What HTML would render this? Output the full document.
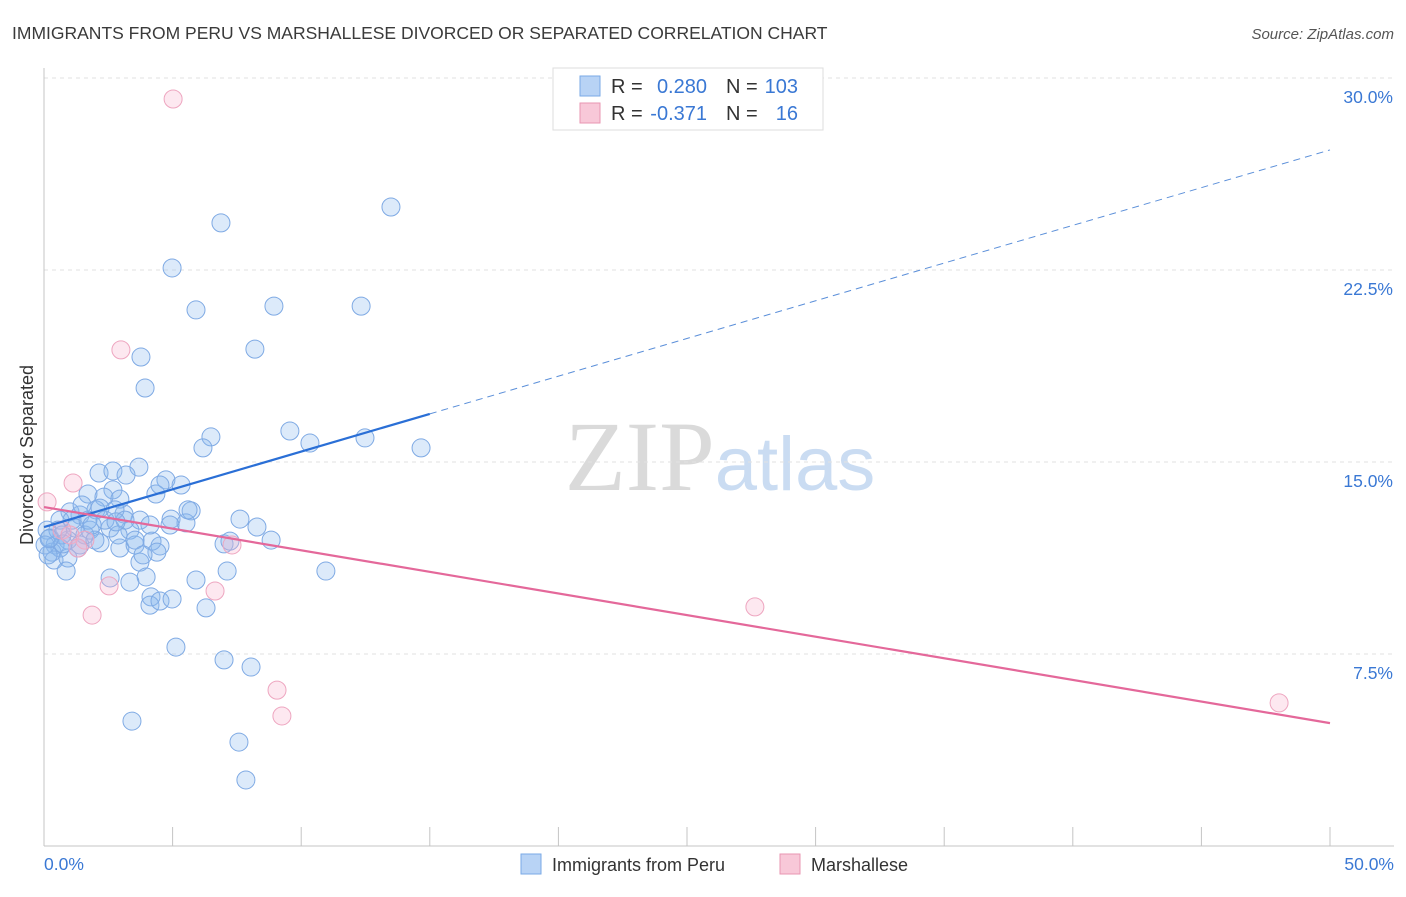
<!DOCTYPE html>
<html><head><meta charset="utf-8"><style>
body{margin:0;background:#fff;font-family:"Liberation Sans",sans-serif}
svg text{font-family:"Liberation Sans",sans-serif}
</style></head><body>
<svg id="c" width="1406" height="892" xmlns="http://www.w3.org/2000/svg">
<text x="12" y="39" font-size="17.5" fill="#3a3a3a">IMMIGRANTS FROM PERU VS MARSHALLESE DIVORCED OR SEPARATED CORRELATION CHART</text>
<text x="1394" y="39" font-size="15" fill="#555" text-anchor="end" font-style="italic">Source: ZipAtlas.com</text>
<text x="720" y="490" text-anchor="middle" font-size="100"><tspan font-family="Liberation Serif" fill="#dadada">ZIP</tspan><tspan fill="#cadcf2" font-size="76">atlas</tspan></text>
<g id="grid"></g>
<g id="axes"></g>
<g id="pts"></g>
<g id="trend"></g>
<text transform="translate(33,455) rotate(-90)" text-anchor="middle" font-size="18" fill="#333">Divorced or Separated</text>
<g>
<rect x="553" y="68" width="270" height="62" fill="#fff" stroke="#ddd"/>
<rect x="580" y="76" width="20" height="20" fill="#b8d3f5" stroke="#7aaae6"/>
<rect x="580" y="103" width="20" height="20" fill="#f8c8d8" stroke="#e896b2"/>
<text x="611" y="93" font-size="20" fill="#333">R =</text>
<text x="707" y="93" font-size="20" fill="#3a78d4" text-anchor="end">0.280</text>
<text x="726" y="93" font-size="20" fill="#333">N =</text>
<text x="798" y="93" font-size="20" fill="#3a78d4" text-anchor="end">103</text>
<text x="611" y="120" font-size="20" fill="#333">R =</text>
<text x="707" y="120" font-size="20" fill="#3a78d4" text-anchor="end">-0.371</text>
<text x="726" y="120" font-size="20" fill="#333">N =</text>
<text x="798" y="120" font-size="20" fill="#3a78d4" text-anchor="end">16</text>
</g>
<g>
<rect x="521" y="854" width="20" height="20" fill="#b8d3f5" stroke="#7aaae6"/>
<text x="552" y="871" font-size="18" fill="#333">Immigrants from Peru</text>
<rect x="780" y="854" width="20" height="20" fill="#f8c8d8" stroke="#e896b2"/>
<text x="811" y="871" font-size="18" fill="#333">Marshallese</text>
</g>
</svg>
<script>
const blueX=[13.49,6.88,4.98,5.91,8.94,12.33,8.20,3.77,3.93,9.56,6.49,10.34,12.48,14.66,6.18,3.69,2.14,2.68,3.19,4.74,5.33,4.35,2.68,1.71,2.33,2.95,5.72,4.94,7.62,5.52,8.28,2.02,1.01,1.40,3.11,3.73,0.62,1.21,1.79,2.57,3.34,0.93,0.43,0.31,0.62,1.40,2.18,2.95,3.54,4.51,4.20,7.00,7.23,8.83,0.39,0.93,0.86,2.57,3.73,3.97,4.39,3.34,5.91,7.12,10.96,4.16,4.12,4.51,4.98,6.30,5.13,7.00,8.05,3.42,7.58,7.85,0.12,0.23,0.70,1.59,1.98,1.09,0.74,2.37,2.76,1.71,1.32,3.15,0.04,0.54,2.18,4.90,3.54,4.12,2.88,1.48,1.87,4.51,0.16,3.85,5.60,2.80,0.20];
const blueY=[24.96,24.34,22.58,20.94,21.09,21.09,19.41,19.10,17.89,16.21,15.98,15.74,15.94,15.55,15.55,14.80,14.57,14.65,14.49,14.30,14.10,13.75,13.91,13.75,13.63,13.55,13.09,12.77,12.77,12.62,12.46,13.13,13.05,12.93,12.97,12.73,12.73,12.42,12.34,12.42,12.34,11.95,11.76,11.48,11.64,11.76,11.84,11.64,11.76,11.72,11.91,11.80,11.91,11.95,11.17,11.25,10.74,10.47,11.09,10.51,11.48,10.31,10.39,10.74,10.74,9.73,9.41,9.57,9.65,9.30,7.77,7.27,6.99,4.88,4.06,2.58,12.34,12.03,12.15,12.15,11.95,12.73,11.80,12.73,13.13,12.73,11.64,12.73,11.76,12.34,13.20,12.54,11.95,12.54,12.15,13.32,12.54,14.10,11.37,11.37,13.13,12.66,12.0];
const pinkX=[5.02,2.99,1.13,0.12,0.70,1.01,1.59,7.31,1.32,2.53,6.65,1.87,27.64,9.06,9.25,48.02];
const pinkY=[29.18,19.38,14.18,13.44,12.34,12.15,11.95,11.76,11.64,10.16,9.96,9.02,9.34,6.09,5.08,5.59];
const yTicks=[7.5,15.0,22.5,30.0];
const xTickLabels=["0.0%","50.0%"];
const blueTrend=[12.46,27.19];const blueSolidEnd=15.0;
const pinkTrend=[13.24,4.80];
const NS="http://www.w3.org/2000/svg";
const L=44,R=1330,T=78,B=846;
const sx=v=>L+(v/50)*(R-L), sy=v=>B-(v/30)*(B-T);
function mk(p,tag,a){const e=document.createElementNS(NS,tag);for(const k in a)e.setAttribute(k,a[k]);p.appendChild(e);return e;}
const grid=document.getElementById('grid'),axes=document.getElementById('axes'),pts=document.getElementById('pts'),tr=document.getElementById('trend');
yTicks.forEach(t=>{
 const l=mk(grid,'line',{x1:L,x2:1394,y1:sy(t),y2:sy(t),stroke:'#e2e2e2','stroke-dasharray':'4,4'});
 
 
 const tx=mk(grid,'text',{x:1393,y:sy(t)+25,'text-anchor':'end','font-size':17.5,fill:'#3a78d4'});
 tx.textContent=t.toFixed(1)+'%';
 
 
});
mk(axes,'line',{x1:L,x2:L,y1:68,y2:B,stroke:'#c4c4c4'});
mk(axes,'line',{x1:L,x2:1394,y1:B,y2:B,stroke:'#c4c4c4'});
for(let i=0;i<=10;i++){const x=sx(i*5);mk(axes,'line',{x1:x,x2:x,y1:B,y2:827,stroke:'#c4c4c4'});}
const xl0=mk(axes,'text',{x:44,y:870,'font-size':17.5,fill:'#3a78d4'});xl0.textContent=xTickLabels[0];


const xl1=mk(axes,'text',{x:1394,y:870,'font-size':17.5,fill:'#3a78d4','text-anchor':'end'});xl1.textContent=xTickLabels[1];


blueX.forEach((x,i)=>{const c=mk(pts,'circle',{cx:sx(x),cy:sy(blueY[i]),r:9,fill:'rgba(140,185,240,0.3)',stroke:'#7faae4','stroke-width':1});
 
 });
pinkX.forEach((x,i)=>{const c=mk(pts,'circle',{cx:sx(x),cy:sy(pinkY[i]),r:9,fill:'rgba(248,180,205,0.3)',stroke:'#eea6c0','stroke-width':1});
 
 });
const by=x=>blueTrend[0]+(blueTrend[1]-blueTrend[0])*x/50;
const b1=mk(tr,'line',{x1:sx(0),y1:sy(by(0)),x2:sx(blueSolidEnd),y2:sy(by(blueSolidEnd)),stroke:'#2a6fd6','stroke-width':2.2});


const b2=mk(tr,'line',{x1:sx(blueSolidEnd),y1:sy(by(blueSolidEnd)),x2:sx(50),y2:sy(by(50)),stroke:'#5b8fd9','stroke-width':1,'stroke-dasharray':'7,5'});


const p1=mk(tr,'line',{x1:sx(0),y1:sy(pinkTrend[0]),x2:sx(50),y2:sy(pinkTrend[1]),stroke:'#e4689a','stroke-width':2.2});


</script>
</body></html>
